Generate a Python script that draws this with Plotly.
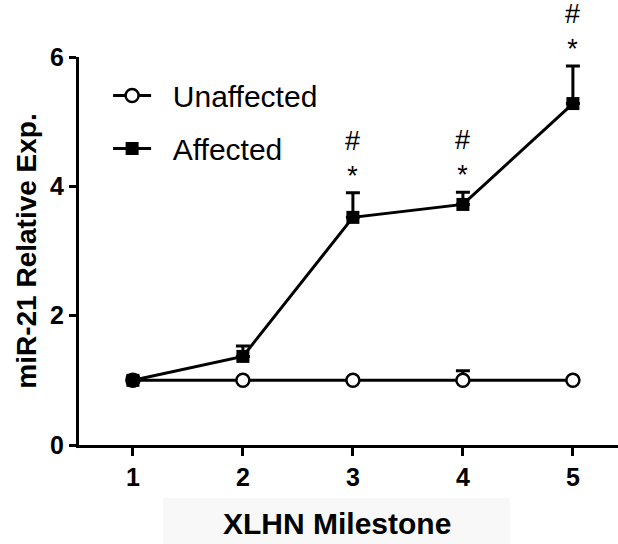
import plotly.graph_objects as go

# XLHN milestones on the x axis
milestones = [1, 2, 3, 4, 5]

# miR-21 relative expression (mean and upper SEM)
unaffected_mean = [1.00, 1.00, 1.00, 1.00, 1.00]
unaffected_err = [0.03, 0.03, 0.03, 0.15, 0.03]
affected_mean = [1.00, 1.37, 3.52, 3.72, 5.28]
affected_err = [0.05, 0.16, 0.38, 0.19, 0.58]

# significance marks above the affected group
sig_labels = ["", "", "#<br>*", "#<br>*", "#<br>*"]

FONT = "Arial, Liberation Sans, Helvetica, sans-serif"
PAD = "\u00a0\u00a0"

fig = go.Figure()

fig.add_trace(go.Scatter(
    x=milestones, y=unaffected_mean, name=PAD + "Unaffected",
    mode="lines+markers",
    line=dict(color="black", width=3),
    marker=dict(symbol="circle", size=13, color="white",
                line=dict(color="black", width=2.5)),
    error_y=dict(type="data", symmetric=False, array=unaffected_err,
                 arrayminus=[0] * len(milestones),
                 color="black", thickness=3, width=7),
    legendgroup="u",
))

fig.add_trace(go.Scatter(
    x=milestones, y=affected_mean, name=PAD + "Affected",
    mode="lines+markers",
    line=dict(color="black", width=3),
    marker=dict(symbol="square", size=13, color="black"),
    error_y=dict(type="data", symmetric=False, array=affected_err,
                 arrayminus=[0] * len(milestones),
                 color="black", thickness=3, width=7),
    legendgroup="a",
))

for x, m, e, lab in zip(milestones, affected_mean, affected_err, sig_labels):
    if lab:
        fig.add_annotation(
            x=x, y=m + e, text=lab, showarrow=False,
            xanchor="center", yanchor="bottom", yshift=0,
            font=dict(family=FONT, size=27, color="black"),
        )

# faint backdrop behind the x-axis title
fig.add_shape(type="rect", xref="paper", yref="paper",
              x0=(163 - 79) / 539, x1=(510 - 79) / 539,
              y0=-99 / 388, y1=-(498 - 445) / 388,
              fillcolor="#f8f8f8", line=dict(width=0), layer="below")

# x-axis title
fig.add_annotation(
    text="<b>XLHN Milestone</b>", xref="paper", yref="paper",
    x=(337 - 79) / 539, y=-(542 - 445) / 388,
    xanchor="center", yanchor="bottom", showarrow=False,
    font=dict(family=FONT, size=30, color="black"),
)

fig.update_layout(
    width=618, height=544,
    margin=dict(l=79, r=0, t=57, b=99),
    paper_bgcolor="white", plot_bgcolor="white",
    font=dict(family=FONT, color="black"),
    showlegend=True,
    legend=dict(
        x=0.054, y=0.968, xanchor="left", yanchor="top",
        font=dict(family=FONT, size=30, color="black"),
        itemwidth=38, tracegroupgap=11, traceorder="grouped",
        bgcolor="rgba(0,0,0,0)", borderwidth=0,
    ),
    xaxis=dict(
        range=[0.51, 5.41], tickvals=milestones,
        showline=True, linecolor="black", linewidth=3,
        ticks="outside", ticklen=8, tickwidth=3, tickcolor="black",
        showgrid=False, zeroline=False,
        tickfont=dict(family=FONT, size=25, color="black", weight="bold"),
    ),
    yaxis=dict(
        range=[0, 6], tickvals=[0, 2, 4, 6],
        showline=True, linecolor="black", linewidth=3,
        ticks="outside", ticklen=7, tickwidth=3, tickcolor="black",
        showgrid=False, zeroline=False,
        tickfont=dict(family=FONT, size=25, color="black", weight="bold"),
        title=dict(text="<b>miR-21 Relative Exp.</b>", standoff=6,
                   font=dict(family=FONT, size=28, color="black")),
    ),
)

fig.write_html("out.html")
